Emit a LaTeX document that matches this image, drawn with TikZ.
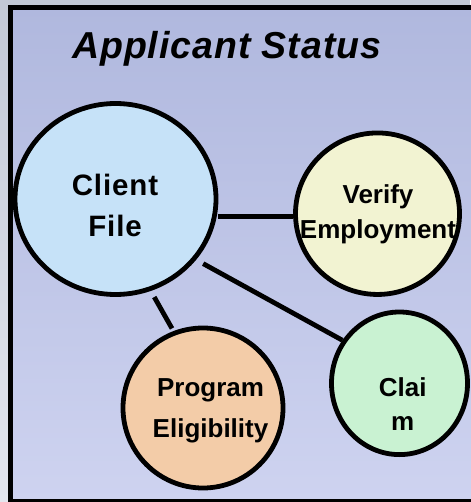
\documentclass[tikz,border=0pt]{standalone}
\usepackage{fontspec}
\setmainfont{Liberation Sans}
\usetikzlibrary{shapes.geometric}
\definecolor{outertop}{HTML}{C3C9D6}
\definecolor{outerbot}{HTML}{E3E6EE}
\definecolor{frametop}{HTML}{B0B8DE}
\definecolor{framebot}{HTML}{CED3F0}
\definecolor{clientfill}{HTML}{C6E2F8}
\definecolor{verifyfill}{HTML}{F2F3D2}
\definecolor{progfill}{HTML}{F3CCA8}
\definecolor{claimfill}{HTML}{C9F2D2}
\tikzset{
  bubble/.style={ellipse, draw=black, line width=4.8pt, inner sep=0pt},
  conn/.style={draw=black, line width=4.8pt},
  lbl/.style={align=center, inner sep=0pt, anchor=base, text=black},
  lblfont/.style={font=\fontsize{26}{#1}\selectfont\bfseries},
}
\begin{document}
\begin{tikzpicture}[x=1pt, y=-1pt]
\useasboundingbox (0,0) rectangle (470,502);
% outer background
\fill[top color=outertop, bottom color=outerbot] (0,0) rectangle (470,502);
% frame
\draw[line width=5pt, top color=frametop, bottom color=framebot] (10.5,7.5) rectangle (480,501.5);
% title
\node[anchor=base west, inner sep=0pt, font=\fontsize{37.5}{44}\selectfont\bfseries\itshape\addfontfeatures{LetterSpace=2.5}] (title) at (72,58.3) {Applicant Status};
% bubbles
\node[bubble, fill=clientfill, minimum width=201pt, minimum height=191pt] (cf) at (115.5,199) {};
\node[bubble, fill=verifyfill, minimum width=164pt, minimum height=161.5pt] (ve) at (377.5,213.7) {};
\node[bubble, fill=progfill, minimum width=160pt, minimum height=160pt] (pe) at (203,408) {};
\node[bubble, fill=claimfill, minimum width=136pt, minimum height=142.6pt] (cl) at (399.5,383.3) {};
% connectors
\draw[conn] (ve.182 -| cf.east) -- (ve.182);
\draw[conn, shorten <=8pt] (cf.-37) -- (cl.143);
\draw[conn, shorten <=7pt, shorten >=3pt] (cf.-69) -- (pe.111);
% labels (base anchor = baseline of the last line)
\node[lbl, font=\fontsize{29.5}{41}\selectfont\bfseries\addfontfeatures{LetterSpace=3}] (cft) at (115,236.7) {Client\\File};
\node[lbl, lblfont=35] (vet) at (378,238.3) {Verify\\Employment};
\node[lbl, lblfont=41] (pet) at (210.5,437) {Program\\Eligibility};
\node[lbl, lblfont=34] (clt) at (402.7,430) {Clai\\m};
\end{tikzpicture}
\end{document}
